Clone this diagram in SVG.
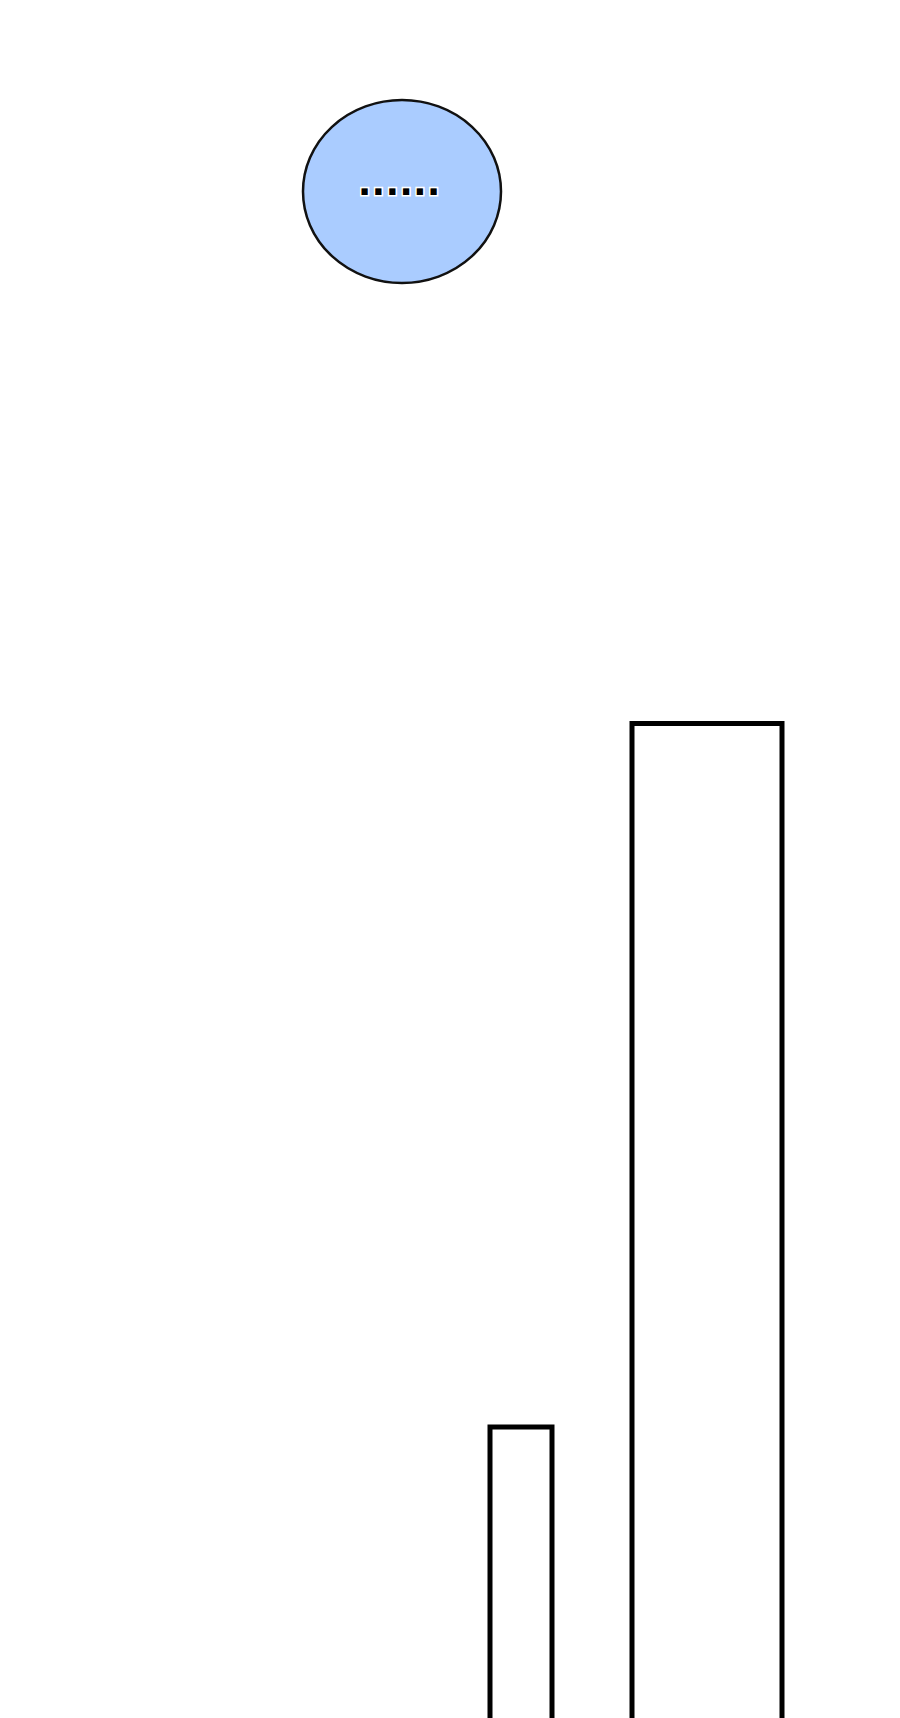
<svg xmlns="http://www.w3.org/2000/svg" width="900" height="1718" viewBox="0 0 900 1718">
<style>
.bar{fill:#ffffff;stroke:#000000;stroke-width:5;stroke-linejoin:miter}
.node{fill:#aaccff;stroke:#111111;stroke-width:2.5}
.lbl{font-family:"Liberation Sans",Arial,sans-serif;font-weight:bold;font-size:44px;fill:#000000;stroke:#ffffff;stroke-width:3;paint-order:stroke;letter-spacing:1.6px}
</style>
<rect width="900" height="1718" fill="#ffffff"/>
<g id="connectors"></g>
<g id="node-ellipse">
<ellipse class="node" cx="402" cy="191.5" rx="99" ry="91.5"/>
<text class="lbl" x="358.5" y="195">......</text>
</g>
<g id="bar-large">
<path class="bar" d="M632,1725 L632,723.5 L782,723.5 L782,1725"/>
</g>
<g id="bar-small">
<path class="bar" d="M490,1725 L490,1427 L552,1427 L552,1725"/>
</g>
</svg>
